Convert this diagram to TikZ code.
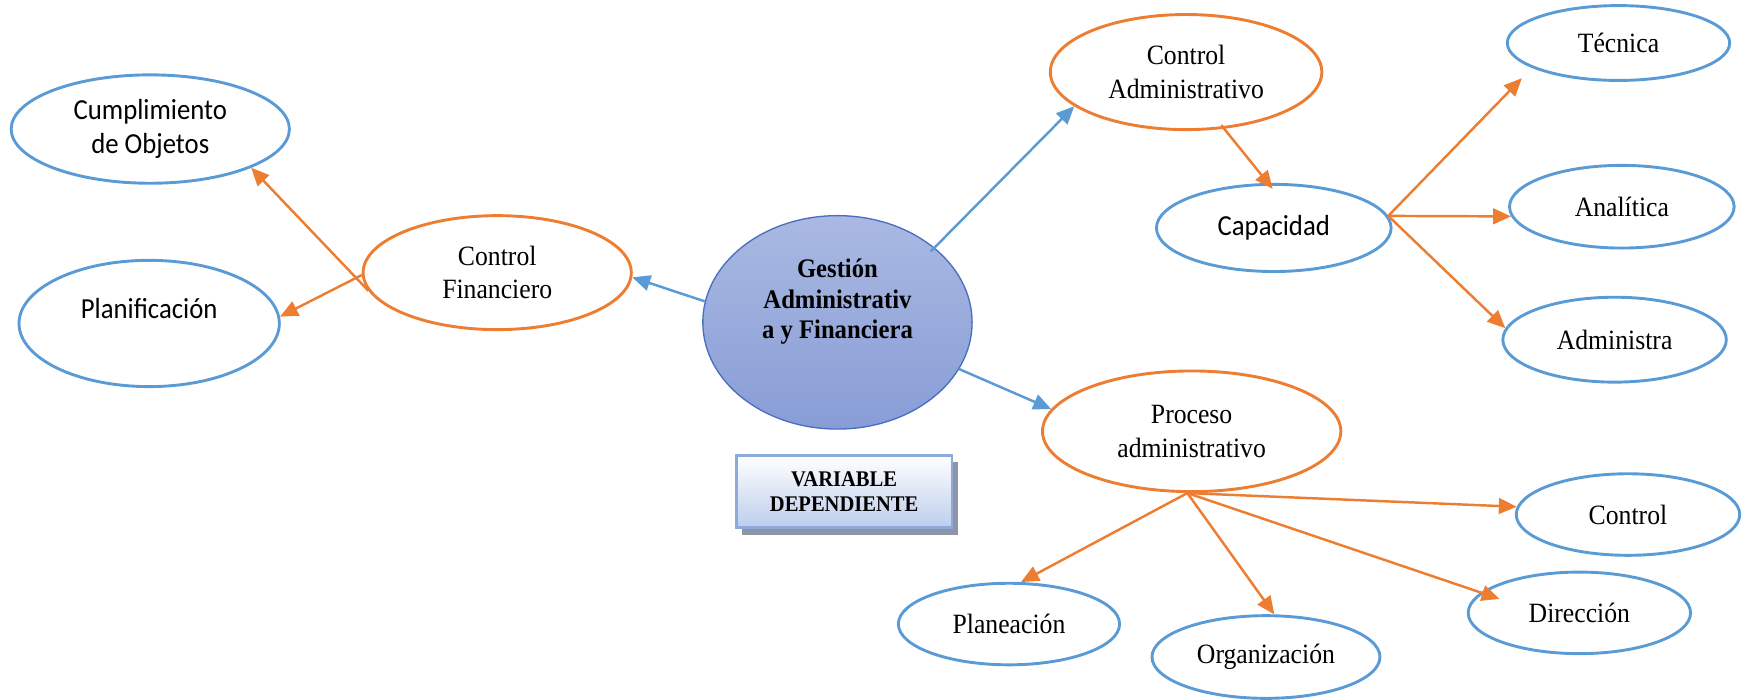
\documentclass[tikz,border=0pt]{standalone}
\usepackage{fontspec}
\setmainfont{Liberation Serif}[FakeStretch=0.92]
\newfontfamily\calib{Carlito}[FakeStretch=0.92]
\usetikzlibrary{shapes.geometric,arrows.meta,calc,shadows}
\definecolor{orng}{HTML}{ED7D31}
\definecolor{blu}{HTML}{5B9BD5}
\definecolor{ctop}{HTML}{AAB9E2}
\definecolor{cbot}{HTML}{889DD6}
\definecolor{cbrd}{HTML}{4A6FC0}
\definecolor{boxbrd}{HTML}{8EAADB}
\definecolor{boxbot}{HTML}{BCCDEC}
\definecolor{shd}{HTML}{8C96A8}
\begin{document}
\begin{tikzpicture}[x=0.5pt,y=-0.5pt,
  ell/.style={ellipse,draw,line width=1.3pt,inner sep=0pt,align=center,
    font=\fontsize{12.5}{15}\selectfont},
  oell/.style={ell,draw=orng},
  bell/.style={ell,draw=blu},
  cal/.style={font=\calib\fontsize{13}{15}\selectfont},
  oarr/.style={draw=orng,line width=1.1pt,-{Triangle[length=8pt,width=7pt]}},
  barr/.style={draw=blu,line width=1.1pt,-{Triangle[length=8pt,width=7pt]}}]
\useasboundingbox (0,0) rectangle (1568,626);

% left branch
\node[bell,cal,minimum width=124.5pt,minimum height=48.5pt] (cumpl) at (134.5,115.5) {Cumplimiento\\de Objetos};
\node[bell,minimum width=116.5pt,minimum height=56.5pt,
  label={[font=\calib\fontsize{13}{15}\selectfont,yshift=6.5pt]center:Planificación}] (plan) at (133.5,289.5) {};
\node[oell,minimum width=120pt,minimum height=51pt] (cf) at (445,244) {Control\\Financiero};

% centre
\node[ellipse,draw=cbrd,line width=0.6pt,top color=ctop,bottom color=cbot,
  minimum width=120.5pt,minimum height=95.5pt,inner sep=0pt,
  label={[align=center,font=\bfseries\fontsize{12}{13.5}\selectfont,yshift=9.25pt]center:{Gestión\\Administrativ\\a y Financiera}}] (central) at (749.5,288.5) {};

\node[draw=boxbrd,line width=1.3pt,top color=white,bottom color=boxbot,
  minimum width=96.5pt,minimum height=32.5pt,inner sep=0pt,align=center,
  font=\bfseries\fontsize{10}{11.5}\selectfont,
  drop shadow={shadow xshift=2.5pt,shadow yshift=-3pt,fill=shd,opacity=1}] (box) at (755.5,440) {VARIABLE\\DEPENDIENTE};

% upper right branch
\node[oell,minimum width=121.5pt,minimum height=51.5pt] (ca) at (1061.5,64.5) {Control\\Administrativo};
\node[bell,cal,minimum width=105pt,minimum height=39pt] (cap) at (1140,204) {Capacidad};
\node[bell,minimum width=99.5pt,minimum height=33.5pt] (tec) at (1448.5,38.5) {Técnica};
\node[bell,minimum width=100.5pt,minimum height=37pt] (ana) at (1451.5,185) {Analítica};
\node[bell,minimum width=100pt,minimum height=38pt] (adm) at (1445,304) {Administra};

% lower right branch
\node[oell,minimum width=133.5pt,minimum height=54pt] (proc) at (1066.5,386) {Proceso\\administrativo};
\node[bell,minimum width=100pt,minimum height=36.5pt] (ctl) at (1457,460.5) {Control};
\node[bell,minimum width=99.5pt,minimum height=36.5pt] (dir) at (1413.5,548.5) {Dirección};
\node[bell,minimum width=99pt,minimum height=36.5pt] (plane) at (903,558.5) {Planeación};
\node[bell,minimum width=102pt,minimum height=37pt] (org) at (1133,588) {Organización};

% fan-out points
\coordinate (capout) at (cap.6);
\coordinate (procout) at (proc.-94);

% connectors
\draw[barr] (central.171) -- (cf.-2);
\draw[oarr] (cf.188) -- (cumpl.-21);
\draw[oarr] (cf.181) -- (plan.3);
\draw[barr] ($(central.center)+(83.5,-63.5)$) -- (ca.197);
\draw[barr] (central.-21) -- (proc.171);
\draw[oarr] ($(ca.center)+(31.5,47.5)$) -- ($(cap.center)+(-1,-35)$);
\draw[oarr] (capout) -- ($(tec.center)+(-86.5,31.5)$);
\draw[oarr] (capout) -- (ana.185);
\draw[oarr] (capout) -- (adm.174);
\draw[oarr] (procout) -- (ctl.176);
\draw[oarr] (procout) -- ($(dir.center)+(-71.5,-12.5)$);
\draw[oarr] (procout) -- (plane.74);
\draw[oarr] (procout) -- (org.79);
\end{tikzpicture}
\end{document}
